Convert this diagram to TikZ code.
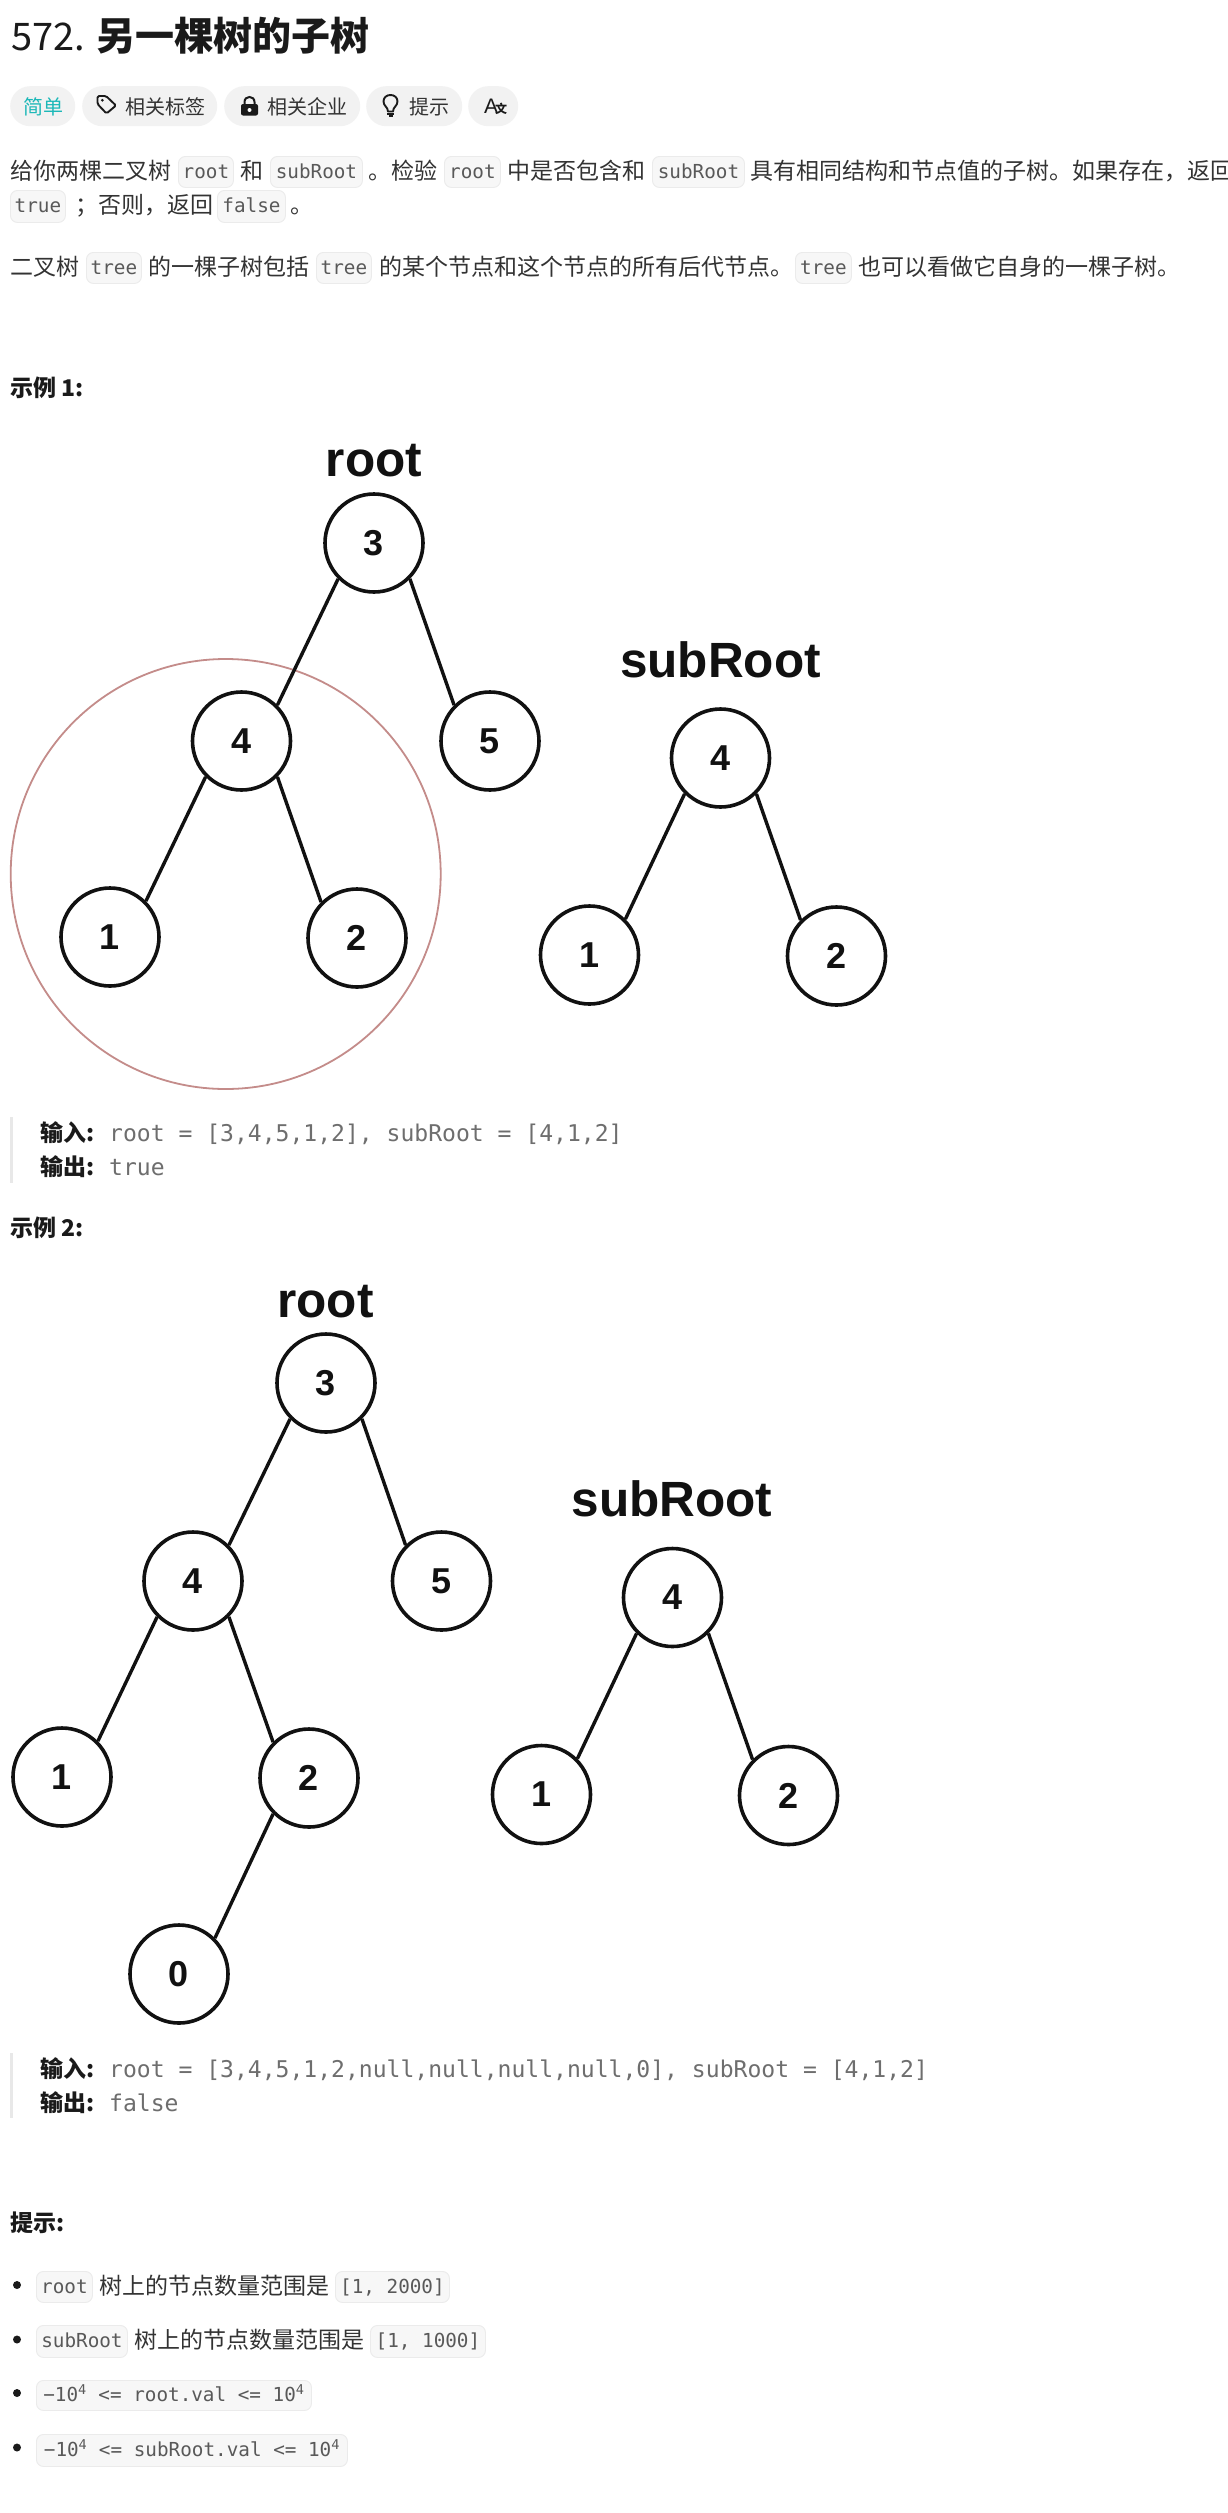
\documentclass[tikz,border=0pt]{standalone}
\usepackage{fontspec}
\setmainfont{Noto Sans CJK SC}
\newfontfamily\codefont{DejaVu Sans Mono}
\newfontfamily\figfont{Liberation Sans}
\definecolor{ink}{HTML}{333333}
\definecolor{titleink}{HTML}{1A1A1A}
\definecolor{codeink}{HTML}{595959}
\definecolor{quoteink}{HTML}{6E6E6E}
\definecolor{chipfill}{HTML}{F7F7F7}
\definecolor{chipline}{HTML}{EBEBEB}
\definecolor{pillfill}{HTML}{F2F2F2}
\definecolor{teal}{HTML}{1CB8B8}
\definecolor{ringred}{HTML}{C48C8A}
\definecolor{barline}{HTML}{E8E8E8}
\definecolor{treeink}{HTML}{111111}
\tikzset{
  body/.style={anchor=base west,inner sep=0,text=ink,font=\fontsize{23}{26}\selectfont},
  head/.style={anchor=base west,inner sep=0,text=titleink,font=\fontsize{23}{26}\selectfont\bfseries},
  pilltext/.style={anchor=base west,inner sep=0,text=ink,font=\fontsize{20}{24}\selectfont},
  quote/.style={anchor=base west,inner sep=0,text=quoteink,font=\codefont\fontsize{23.05}{26}\selectfont},
  chip/.style={anchor=north west,inner sep=0,fill=chipfill,draw=chipline,line width=0.9pt,rounded corners=7pt,text=codeink,text height=16pt,text depth=3pt,font=\codefont\fontsize{19.3}{22}\selectfont},
  pill/.style={anchor=north west,inner sep=0,fill=pillfill,rounded corners=20pt,minimum height=40pt},
  tnode/.style={circle,draw=treeink,line width=3.6pt,minimum size=98pt,inner sep=0,text=treeink,font=\figfont\bfseries\fontsize{36}{40}\selectfont},
  tlabel/.style={inner sep=0,text=treeink,font=\figfont\bfseries\fontsize{49.5}{52}\selectfont},
  tedge/.style={draw=treeink,line width=3.4pt},
  ring/.style={circle,draw=ringred,line width=1.8pt,minimum size=430pt,inner sep=0},
  qbar/.style={fill=barline,draw=none},
  bulletdot/.style={circle,fill=titleink,inner sep=0,minimum size=8pt},
  iconline/.style={draw=titleink,line width=1.9pt,line join=round,line cap=round},
}
\newcommand{\chipat}[6]{\node[chip,minimum width=#4pt,minimum height=#5pt] (#1) at (#2,#3) {#6};}
\begin{document}
\begin{tikzpicture}[x=1pt,y=-1pt]
\path[use as bounding box,fill=white] (0,0) rectangle (1227,2513);
% title
\node[anchor=base west,inner sep=0,text=titleink,font=\fontsize{38}{40}\selectfont] (tnum) at (11,51) {572.};
\node[anchor=base west,inner sep=0,text=titleink,font=\fontsize{39}{42}\selectfont\bfseries] (tname) at (96,51) {另一棵树的子树};
% pills
\node[pill,minimum width=65pt] (p1) at (10,86) {};
\node[pill,minimum width=135pt] (p2) at (82,86) {};
\node[pill,minimum width=136pt] (p3) at (224,86) {};
\node[pill,minimum width=96pt] (p4) at (366,86) {};
\node[pill,minimum width=50pt] (p5) at (468,86) {};
\node[pilltext,text=teal] (pt1) at (23,114.5) {简单};
\node[pilltext] (pt2) at (125,114.5) {相关标签};
\node[pilltext] (pt3) at (267.5,114.5) {相关企业};
\node[pilltext] (pt4) at (409,114.5) {提示};
% tag icon
\draw[iconline,rounded corners=1.5pt] (97.5,96) -- (106,96) -- (116,105.5) -- (106.5,113.5) -- (97.5,104) -- cycle;
\fill[titleink] (102.3,100.3) circle (1.5);
% lock icon
\fill[titleink,rounded corners=2pt] (241,104) rectangle (258,115.5);
\draw[titleink,line width=2pt] (244.5,105) -- (244.5,102) .. controls (244.5,95.3) and (254.5,95.3) .. (254.5,102) -- (254.5,105);
\fill[white] (249.5,110) circle (2);
% bulb icon
\draw[iconline] (388,111.5) .. controls (388,107) and (383.5,106) .. (383.5,101.5) .. controls (383.5,97.5) and (386.5,95) .. (390.5,95) .. controls (394.5,95) and (397.5,97.5) .. (397.5,101.5) .. controls (397.5,106) and (393,107) .. (393,111.5) -- cycle;
\fill[titleink] (387,113) rectangle (394,115.2);
\fill[titleink] (388.5,115.2) rectangle (392.5,117);
% translate icon
\node[anchor=base west,inner sep=0,text=titleink,font=\figfont\fontsize{21}{24}\selectfont] (ta) at (484,113) {A};
\node[anchor=base west,inner sep=0,text=titleink,font=\fontsize{12}{13}\selectfont\bfseries] (tb) at (495,113) {文};
% paragraph
\node[body] (l1a) at (10,179) {给你两棵二叉树};
\chipat{c1}{178}{156}{55}{31}{root}
\node[body] (l1b) at (240,179) {和};
\chipat{c2}{270}{156}{92}{31}{subRoot}
\node[body] (l1c) at (368,179) {。检验};
\chipat{c3}{444}{156}{56}{31}{root}
\node[body] (l1d) at (507,179) {中是否包含和};
\chipat{c4}{652}{156}{92}{31}{subRoot}
\node[body] (l1e) at (750,179) {具有相同结构和节点值的子树。如果存在，返回};
\chipat{c5}{10}{190}{55}{32}{true}
\node[body] (l2a) at (75,213) {；否则，返回};
\chipat{c6}{217}{190}{68}{32}{false}
\node[body] (l2b) at (290,213) {。};
\node[body] (l3a) at (10,275) {二叉树};
\chipat{c7}{86}{252}{55}{31}{tree}
\node[body] (l3b) at (148,275) {的一棵子树包括};
\chipat{c8}{316}{252}{55}{31}{tree}
\node[body] (l3c) at (379,275) {的某个节点和这个节点的所有后代节点。};
\chipat{c9}{795}{252}{56}{31}{tree}
\node[body] (l3d) at (858,275) {也可以看做它自身的一棵子树。};
% example 1
\node[head] (ex1) at (10,396.5) {示例 1:};
\node[ring] (ringa) at (225.7,874) {};
\node[tlabel] (ra) at (374,461) {root};
\node[tnode] (a3) at (374,543) {3};
\node[tnode] (a4) at (241.5,741) {4};
\node[tnode] (a5) at (490,741) {5};
\node[tnode] (a1) at (110,937) {1};
\node[tnode] (a2) at (357,938) {2};
\draw[tedge] (a3.225) -- (a4.45);
\draw[tedge] (a3.315) -- (a5.135);
\draw[tedge] (a4.225) -- (a1.45);
\draw[tedge] (a4.315) -- (a2.135);
\node[tlabel] (rb) at (720.5,660) {subRoot};
\node[tnode] (b4) at (720.5,758) {4};
\node[tnode] (b1) at (589.5,955) {1};
\node[tnode] (b2) at (836.5,956) {2};
\draw[tedge] (b4.225) -- (b1.45);
\draw[tedge] (b4.315) -- (b2.135);
% quote 1
\fill[qbar] (10,1117) rectangle (13,1183);
\node[head] (q1a) at (40,1141) {输入:};
\node[quote] (q1b) at (109,1141) {root = [3,4,5,1,2], subRoot = [4,1,2]};
\node[head] (q1c) at (40,1175) {输出:};
\node[quote] (q1d) at (109,1175) {true};
% example 2
\node[head] (ex2) at (10,1236.5) {示例 2:};
\node[tlabel] (rc) at (325.5,1301.5) {root};
\node[tnode] (d3) at (326,1383) {3};
\node[tnode] (d4) at (193,1581) {4};
\node[tnode] (d5) at (441.5,1581) {5};
\node[tnode] (d1) at (62,1777) {1};
\node[tnode] (d2) at (309,1778) {2};
\node[tnode] (d0) at (179,1974) {0};
\draw[tedge] (d3.225) -- (d4.45);
\draw[tedge] (d3.315) -- (d5.135);
\draw[tedge] (d4.225) -- (d1.45);
\draw[tedge] (d4.315) -- (d2.135);
\draw[tedge] (d2.225) -- (d0.45);
\node[tlabel] (rd) at (672,1499) {subRoot};
\node[tnode] (e4) at (672.5,1597.5) {4};
\node[tnode] (e1) at (541.5,1794.5) {1};
\node[tnode] (e2) at (788.5,1795.5) {2};
\draw[tedge] (e4.225) -- (e1.45);
\draw[tedge] (e4.315) -- (e2.135);
% quote 2
\fill[qbar] (10,2053) rectangle (13,2118);
\node[head] (q2a) at (40,2077) {输入:};
\node[quote] (q2b) at (109,2077) {root = [3,4,5,1,2,null,null,null,null,0], subRoot = [4,1,2]};
\node[head] (q2c) at (40,2111) {输出:};
\node[quote] (q2d) at (109,2111) {false};
% hints
\node[head] (hint) at (10,2231.5) {提示:};
\node[bulletdot] (b1x) at (17,2285) {};
\chipat{h1}{36}{2271}{56}{31}{root}
\node[body] (h1t) at (99,2294) {树上的节点数量范围是};
\chipat{h2}{335}{2271}{114}{31}{[1, 2000]}
\node[bulletdot] (b2x) at (17,2339.5) {};
\chipat{h3}{36}{2325}{91}{32}{subRoot}
\node[body] (h3t) at (134,2348) {树上的节点数量范围是};
\chipat{h4}{370}{2325}{115}{32}{[1, 1000]}
\node[bulletdot] (b3x) at (17,2393) {};
\chipat{h5}{36}{2380}{275}{30}{−10\textsuperscript{4} <= root.val <= 10\textsuperscript{4}}
\node[bulletdot] (b4x) at (17,2447.5) {};
\chipat{h6}{36}{2434}{311}{32}{−10\textsuperscript{4} <= subRoot.val <= 10\textsuperscript{4}}
\end{tikzpicture}
\end{document}
